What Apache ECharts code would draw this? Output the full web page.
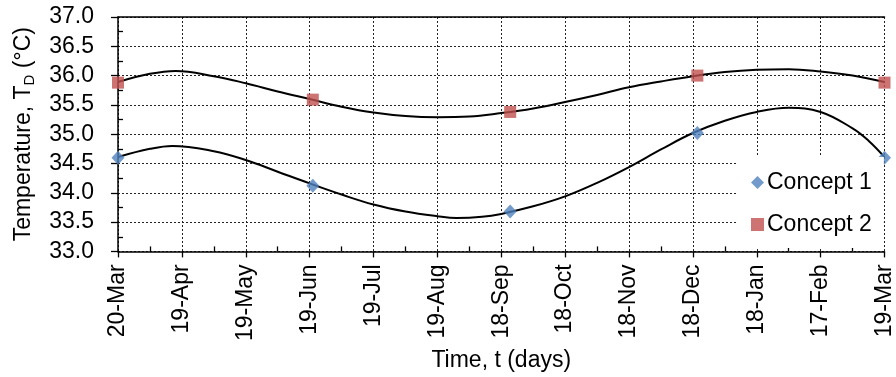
<!DOCTYPE html>
<html>
<head>
<meta charset="utf-8">
<script src="https://cdn.jsdelivr.net/npm/echarts@6/dist/echarts.min.js"></script>
<style>
html,body{margin:0;padding:0;background:#fff;}
#chart{width:896px;height:377px;}
</style>
</head>
<body>
<div id="chart"></div>
<script>
// Tick labels (x positions 0..12, one per major tick)
var xLabels = ['20-Mar','19-Apr','19-May','19-Jun','19-Jul','19-Aug','18-Sep','18-Oct','18-Nov','18-Dec','18-Jan','17-Feb','19-Mar'];
// Measured points (x in major-tick units)
var pointX = [0, 3.05, 6.14, 9.07, 12];
var concept1 = [34.60, 34.12, 33.68, 35.02, 34.60];
var concept2 = [35.88, 35.59, 35.38, 36.00, 35.88];
// Trendlines
var trend1X = [0, 0.5, 0.85, 1.5, 2, 2.5, 3, 3.5, 4, 4.5, 5, 5.3, 5.7, 6, 6.5, 7, 7.5, 8, 8.5, 9, 9.5, 10, 10.5, 11, 11.5, 11.75, 12];
var trend1Y = [34.61, 34.75, 34.80, 34.71, 34.56, 34.36, 34.16, 33.97, 33.80, 33.68, 33.60, 33.57, 33.59, 33.64, 33.77, 33.94, 34.17, 34.44, 34.74, 35.02, 35.23, 35.38, 35.45, 35.38, 35.10, 34.89, 34.61];
var trend2X = [0, 0.5, 0.9, 1.5, 2, 2.5, 3, 3.5, 4, 4.5, 5, 5.5, 6, 6.5, 7, 7.5, 8, 8.5, 9, 9.5, 10, 10.5, 11, 11.5, 12];
var trend2Y = [35.89, 36.03, 36.08, 35.99, 35.87, 35.73, 35.60, 35.47, 35.37, 35.31, 35.29, 35.30, 35.36, 35.44, 35.55, 35.67, 35.80, 35.90, 35.99, 36.06, 36.10, 36.11, 36.07, 36.00, 35.89];

function pairs(xs, ys){ return xs.map(function(x,i){ return [x, ys[i]]; }); }

var FONT = 'Liberation Sans, Arial, sans-serif';
var chart = echarts.init(document.getElementById('chart'), null, {renderer:'canvas'});
var gridLine = {show:true, lineStyle:{color:'#222', width:1, type:[2,2]}};
var option = {
  animation:false,
  backgroundColor:'#fff',
  textStyle:{fontFamily:FONT},
  grid:{left:118, right:3, top:17, bottom:125, containLabel:false},
  legend:{
    data:[{name:'Concept 1', icon:'diamond'},{name:'Concept 2', icon:'rect'}],
    orient:'vertical', left:737, top:157,
    padding:[14,12,12,14], backgroundColor:'#fff',
    itemWidth:13, itemHeight:13, itemGap:19,
    textStyle:{fontSize:23, color:'#000', fontFamily:FONT, lineHeight:22, padding:[0,0,0,-2]}
  },
  xAxis:[
    {type:'value', min:0, max:12, interval:1, position:'bottom',
     axisLine:{show:true, onZero:false, lineStyle:{color:'#000', width:1.5}},
     axisTick:{show:true, inside:false, length:6, lineStyle:{color:'#000', width:1.3}},
     axisLabel:{rotate:90, fontSize:23, color:'#000', margin:13, fontFamily:FONT,
       formatter:function(v){ return xLabels[Math.round(v)] || ''; }},
     splitLine:gridLine,
     name:'Time, t (days)', nameLocation:'middle', nameGap:97,
     nameTextStyle:{fontSize:23, color:'#000', fontFamily:FONT}
    },
    {type:'value', min:0, max:12, interval:1, position:'bottom',
     axisLine:{show:false}, axisLabel:{show:false}, splitLine:{show:false},
     axisTick:{show:false, inside:true},
     minorTick:{show:true, splitNumber:2, length:5, lineStyle:{color:'#000', width:1.3}}
    },
    {type:'value', min:0, max:12, interval:1, position:'top',
     axisLine:{show:true, lineStyle:{color:'#000', width:1.5}},
     axisTick:{show:false}, axisLabel:{show:false}, splitLine:{show:false}
    }
  ],
  yAxis:[
    {type:'value', min:33, max:37, interval:0.5, position:'left',
     axisLine:{show:true, onZero:false, lineStyle:{color:'#000', width:1.5}},
     axisTick:{show:true, inside:false, length:7, lineStyle:{color:'#000', width:1.3}},
     axisLabel:{fontSize:23, color:'#000', margin:24, fontFamily:FONT,
       formatter:function(v){ return v.toFixed(1); }},
     splitLine:gridLine,
     name:'Temperature, T{sub|D} (°C)', nameLocation:'middle', nameGap:81,
     nameTextStyle:{fontSize:23, color:'#000', fontFamily:FONT,
       rich:{sub:{fontSize:15, color:'#000', fontFamily:FONT, padding:[11,0,0,0]}}}
    },
    {type:'value', min:33, max:37, interval:0.5, position:'left',
     axisLine:{show:false}, axisLabel:{show:false}, splitLine:{show:false},
     axisTick:{show:false, inside:true},
     minorTick:{show:true, splitNumber:2, length:5, lineStyle:{color:'#000', width:1.3}}
    }
  ],
  series:[
    {name:'Trend 1', type:'line', xAxisIndex:0, yAxisIndex:0, data:pairs(trend1X, trend1Y),
     smooth:0.4, symbol:'none', lineStyle:{color:'#000', width:2}, z:2, silent:true},
    {name:'Trend 2', type:'line', xAxisIndex:0, yAxisIndex:0, data:pairs(trend2X, trend2Y),
     smooth:0.4, symbol:'none', lineStyle:{color:'#000', width:2}, z:2, silent:true},
    {name:'Concept 1', type:'scatter', xAxisIndex:0, yAxisIndex:0, data:pairs(pointX, concept1),
     symbol:'diamond', symbolSize:[13,14], itemStyle:{color:'#4F81BD'}, z:3},
    {name:'Concept 2', type:'scatter', xAxisIndex:0, yAxisIndex:0, data:pairs(pointX, concept2),
     symbol:'rect', symbolSize:12, itemStyle:{color:'#C0504D'}, z:3}
  ]
};
chart.setOption(option);
</script>
</body>
</html>
